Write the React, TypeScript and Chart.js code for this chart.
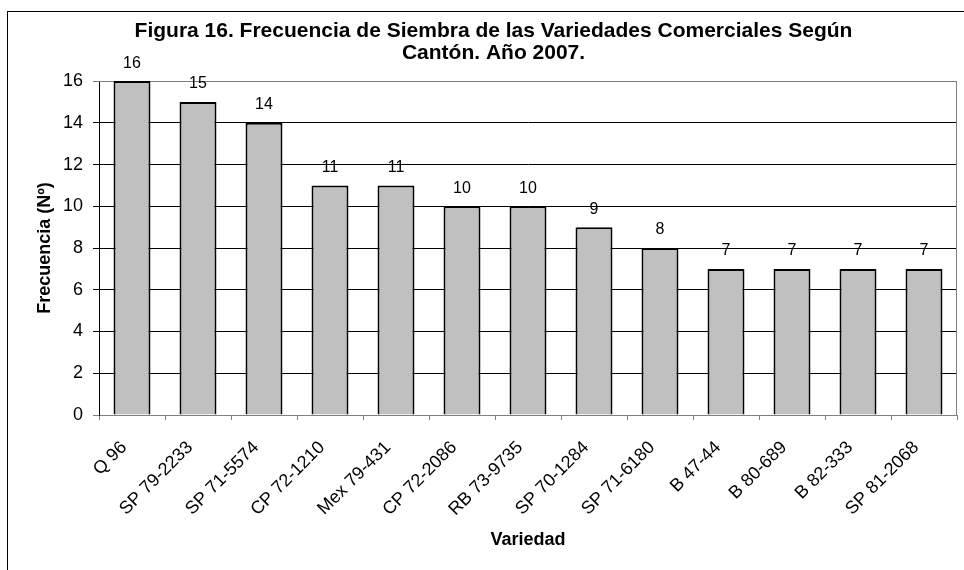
import React, { useEffect, useRef } from "react";
import { Chart, registerables } from "chart.js";

Chart.register(...registerables);

const categories = [
  "Q 96",
  "SP 79-2233",
  "SP 71-5574",
  "CP 72-1210",
  "Mex 79-431",
  "CP 72-2086",
  "RB 73-9735",
  "SP 70-1284",
  "SP 71-6180",
  "B 47-44",
  "B 80-689",
  "B 82-333",
  "SP 81-2068",
];
const frecuencia = [16, 15, 14, 11, 11, 10, 10, 9, 8, 7, 7, 7, 7];
const titleLines = [
  "Figura 16. Frecuencia de Siembra de las Variedades Comerciales Según",
  "Cantón. Año 2007.",
];
const yTitle = "Frecuencia (Nº)";
const xTitle = "Variedad";
const yMin = 0;
const yMax = 16;
const yStep = 2;

const FONT = "'Liberation Sans', Arial, Helvetica, sans-serif";

const framePlugin = {
  id: "framePlugin",
  beforeDatasetsDraw(chart: any) {
    const { ctx, chartArea } = chart;
    ctx.save();
    ctx.strokeStyle = "#808080";
    ctx.lineWidth = 1;
    ctx.beginPath();
    ctx.moveTo(chartArea.left, Math.round(chartArea.top) + 0.5);
    ctx.lineTo(Math.round(chartArea.right) - 0.5, Math.round(chartArea.top) + 0.5);
    ctx.lineTo(Math.round(chartArea.right) - 0.5, chartArea.bottom);
    ctx.stroke();
    ctx.restore();
  },
  afterDatasetsDraw(chart: any) {
    const { ctx } = chart;
    const meta = chart.getDatasetMeta(0);
    ctx.save();
    ctx.fillStyle = "#000";
    ctx.font = `16px ${FONT}`;
    ctx.textAlign = "center";
    ctx.textBaseline = "middle";
    meta.data.forEach((bar: any, i: number) => {
      ctx.fillText(String(frecuencia[i]), bar.x, bar.y - 18);
    });
    ctx.restore();
  },
  afterDraw(chart: any) {
    const { ctx } = chart;
    ctx.save();
    ctx.strokeStyle = "#000";
    ctx.lineWidth = 1;
    ctx.strokeRect(7.5, 11.5, 3000, 3000);
    ctx.restore();
  },
};

export default function App() {
  const ref = useRef<HTMLCanvasElement>(null);
  useEffect(() => {
    if (!ref.current) return;
    const chart = new Chart(ref.current, {
      type: "bar",
      data: {
        labels: categories,
        datasets: [
          {
            data: frecuencia,
            backgroundColor: "#C0C0C0",
            borderColor: "#000",
            borderWidth: 2,
            barPercentage: 0.56,
            categoryPercentage: 1,
          },
        ],
      },
      plugins: [framePlugin],
      options: {
        animation: false,
        responsive: false,
        maintainAspectRatio: false,
        layout: { padding: { left: 30, right: 7, top: 0, bottom: 0 } },
        plugins: {
          legend: { display: false },
          tooltip: { enabled: false },
          title: {
            display: true,
            text: titleLines,
            color: "#000",
            font: { family: FONT, size: 21, weight: "bold", lineHeight: 1.05 },
            padding: { top: 20, bottom: 17 },
          },
        },
        scales: {
          x: {
            offset: true,
            grid: {
              display: true,
              drawOnChartArea: false,
              drawTicks: true,
              tickLength: 5,
              color: "#808080",
              offset: true,
            },
            border: { display: true, color: "#808080" },
            ticks: {
              color: "#000",
              font: { family: FONT, size: 18 },
              maxRotation: 45,
              minRotation: 45,
              autoSkip: false,
              padding: 17,
              labelOffset: -8,
            },
            title: {
              display: true,
              text: xTitle,
              color: "#000",
              font: { family: FONT, size: 18, weight: "bold" },
              padding: { top: 0, bottom: 19 },
            },
            afterFit(scale: any) {
              scale.height = 155;
            },
          },
          y: {
            min: yMin,
            max: yMax,
            ticks: {
              stepSize: yStep,
              color: "#000",
              font: { family: FONT, size: 18 },
              padding: 10,
            },
            grid: {
              color: (c: any) => (c.tick && (c.tick.value === 0 || c.tick.value === 16) ? "#808080" : "#000"),
              lineWidth: 1,
              tickLength: 6,
              drawTicks: true,
            },
            border: { display: true, color: "#000" },
            title: {
              display: true,
              text: yTitle,
              color: "#000",
              font: { family: FONT, size: 18, weight: "bold" },
              padding: { top: 4, bottom: 0 },
            },
            afterFit(scale: any) {
              scale.width = 69;
            },
          },
        },
      },
    });
    return () => chart.destroy();
  }, []);
  return (
    <div style={{ position: "absolute", left: 0, top: 0, width: 964, height: 570, background: "#fff" }}>
      <canvas ref={ref} width={964} height={570} style={{ display: "block" }} />
    </div>
  );
}
